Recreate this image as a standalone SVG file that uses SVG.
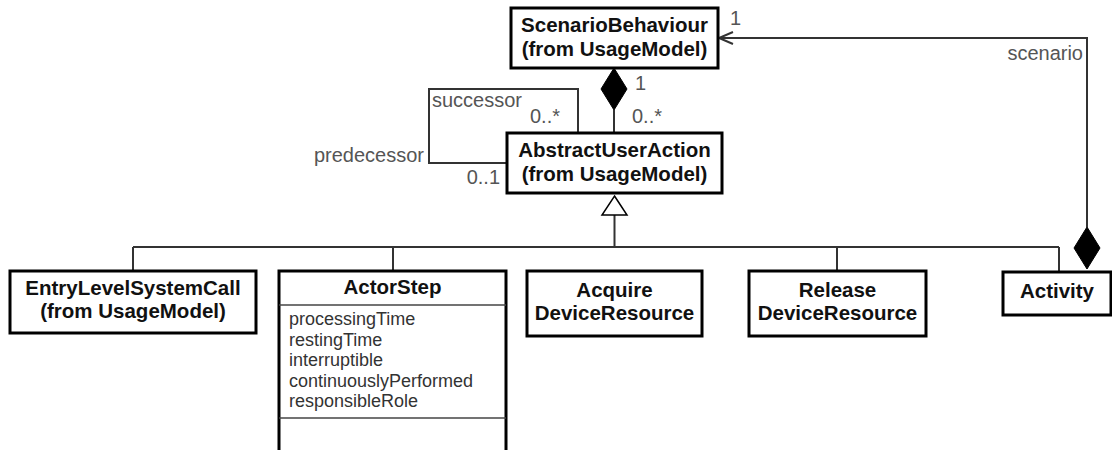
<svg xmlns="http://www.w3.org/2000/svg" width="1112" height="450" viewBox="0 0 1112 450">
<style>
.box{fill:#fff;stroke:#000;stroke-width:3}
.sep{stroke:#444;stroke-width:1.5}
.t{font-family:"Liberation Sans",Arial,sans-serif;font-weight:bold;font-size:20.5px;fill:#111;text-anchor:middle}
.a{font-family:"Liberation Sans",Arial,sans-serif;font-size:18px;fill:#333}
.l{font-family:"Liberation Sans",Arial,sans-serif;font-size:20px;fill:#555}
.c{fill:none;stroke:#333;stroke-width:2}
</style>
<rect width="1112" height="450" fill="#fff"/>
<g id="connectors">
  <!-- composition ScenarioBehaviour - AbstractUserAction -->
  <line class="c" x1="614" y1="110" x2="614" y2="133"/>
  <polygon points="614,68 627,89 614,110 601,89" fill="#000" stroke="#000" stroke-width="1"/>
  <!-- self association -->
  <polyline class="c" points="578,133 578,89 429,89 429,163 507,163"/>
  <!-- generalization -->
  <line class="c" x1="614.5" y1="215" x2="614.5" y2="247"/>
  <polygon points="614.5,196 627,215 602,215" fill="#fff" stroke="#000" stroke-width="1.5"/>
  <line class="c" x1="133" y1="247" x2="1059" y2="247"/>
  <line class="c" x1="133" y1="247" x2="133" y2="271"/>
  <line class="c" x1="393" y1="247" x2="393" y2="271"/>
  <line class="c" x1="837" y1="247" x2="837" y2="271"/>
  <line class="c" x1="1059" y1="247" x2="1059" y2="272"/>
  <!-- Activity to ScenarioBehaviour -->
  <polyline class="c" points="1087,227 1087,38 719,38"/>
  <polyline class="c" points="733,32 719,38 733,44"/>
  <polygon points="1087,227 1100,248 1087,269 1074,248" fill="#000" stroke="#000" stroke-width="1"/>
  <text class="l" x="730" y="25">1</text>
  <text class="l" x="1083" y="60" text-anchor="end">scenario</text>
  <text class="l" x="635" y="90">1</text>
  <text class="l" x="632" y="123">0..*</text>
  <text class="l" x="432" y="107">successor</text>
  <text class="l" x="530" y="123">0..*</text>
  <text class="l" x="424" y="162" text-anchor="end">predecessor</text>
  <text class="l" x="500" y="184" text-anchor="end">0..1</text>
</g>
<g id="ScenarioBehaviour">
  <rect class="box" x="511" y="8" width="207" height="60"/>
  <text class="t" x="614.5" y="32">ScenarioBehaviour</text>
  <text class="t" x="614.5" y="56">(from UsageModel)</text>
</g>
<g id="AbstractUserAction">
  <rect class="box" x="507" y="133" width="215" height="60"/>
  <text class="t" x="614.5" y="157">AbstractUserAction</text>
  <text class="t" x="614.5" y="181">(from UsageModel)</text>
</g>
<g id="EntryLevelSystemCall">
  <rect class="box" x="10" y="271" width="246" height="62"/>
  <text class="t" x="133" y="295">EntryLevelSystemCall</text>
  <text class="t" x="133" y="318">(from UsageModel)</text>
</g>
<g id="ActorStep">
  <rect class="box" x="279" y="271" width="227" height="185"/>
  <line class="sep" x1="279" y1="305" x2="506" y2="305"/>
  <line class="sep" x1="279" y1="418" x2="506" y2="418"/>
  <text class="t" x="392.5" y="294">ActorStep</text>
  <text class="a" x="289" y="325">processingTime</text>
  <text class="a" x="289" y="346">restingTime</text>
  <text class="a" x="289" y="366">interruptible</text>
  <text class="a" x="289" y="387">continuouslyPerformed</text>
  <text class="a" x="289" y="407">responsibleRole</text>
</g>
<g id="AcquireDeviceResource">
  <rect class="box" x="527" y="271" width="175" height="65"/>
  <text class="t" x="614.5" y="297">Acquire</text>
  <text class="t" x="614.5" y="320">DeviceResource</text>
</g>
<g id="ReleaseDeviceResource">
  <rect class="box" x="749" y="271" width="177" height="65"/>
  <text class="t" x="837.5" y="297">Release</text>
  <text class="t" x="837.5" y="320">DeviceResource</text>
</g>
<g id="Activity">
  <rect class="box" x="1003" y="272" width="108" height="43"/>
  <text class="t" x="1057" y="298">Activity</text>
</g>
</svg>
